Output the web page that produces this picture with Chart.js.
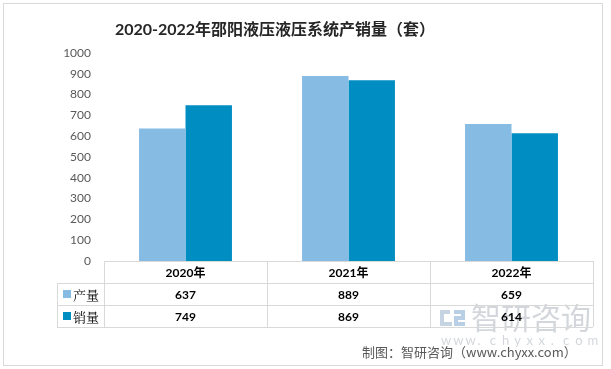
<!DOCTYPE html>
<html>
<head>
<meta charset="utf-8">
<script src="https://cdn.jsdelivr.net/npm/chart.js@4"></script>
<style>
html,body{margin:0;padding:0;background:#fff;}
#wrap{position:relative;width:611px;height:369px;}
</style>
</head>
<body>
<div id="wrap"><canvas id="c" width="611" height="369"></canvas></div>
<script>
const titleText = '2020-2022年邵阳液压液压系统产销量（套）';
const categories = ['2020年', '2021年', '2022年'];
const seriesNames = ['产量', '销量'];
const production = [637, 889, 659];
const sales = [749, 869, 614];
const yTicks = [0, 100, 200, 300, 400, 500, 600, 700, 800, 900, 1000];
const sourceText = '制图：智研咨询（www.chyxx.com）';
const colors = ['#86bbe3', '#008dc2'];

const latin = "Lato, 'Noto Sans CJK SC', sans-serif";

const tablePlugin = {
  id: 'tablePlugin',
  beforeDraw(chart) {
    const ctx = chart.ctx;
    ctx.save();
    ctx.fillStyle = '#fff';
    ctx.fillRect(0, 0, chart.width, chart.height);
    ctx.strokeStyle = '#d9d9d9';
    ctx.lineWidth = 1;
    ctx.strokeRect(3.5, 3.5, 599, 362);
    // watermark
    ctx.fillStyle = '#d3d7dc';
    ctx.font = "30px 'Noto Sans CJK SC'";
    ctx.textAlign = 'left';
    ctx.textBaseline = 'middle';
    ctx.fillText('智研咨询', 471, 318);
    ctx.font = "13px " + latin;
    const w = 'www.chyxx.com';
    for (let i = 0; i < w.length; i++) {
      ctx.fillText(w[i], 441 + i * 12.2, 341);
    }
    // logo
    ctx.fillStyle = '#c5d3e3';
    ctx.fillRect(440, 310, 10, 4);
    ctx.fillRect(440, 310, 4, 16);
    ctx.fillRect(440, 322, 12, 4);
    ctx.fillStyle = '#b9cfe6';
    ctx.fillRect(454, 310, 11, 4);
    ctx.fillRect(461, 310, 4, 9);
    ctx.fillRect(454, 316, 11, 4);
    ctx.fillRect(454, 316, 4, 10);
    ctx.fillRect(454, 322, 11, 4);
    ctx.restore();
  },
  afterDraw(chart) {
    const ctx = chart.ctx;
    const ca = chart.chartArea;
    const xs = chart.scales.x;
    const left = ca.left, right = ca.right;
    const colW = (right - left) / categories.length;
    const tableLeft = 57;
    const rows = [ca.bottom, ca.bottom + 22, ca.bottom + 44, ca.bottom + 66];
    ctx.save();
    // title
    ctx.fillStyle = '#262626';
    ctx.font = "bold 16px " + latin;
    ctx.textAlign = 'center';
    ctx.textBaseline = 'middle';
    ctx.fillText(titleText, 275, 30);

    ctx.strokeStyle = '#d9d9d9';
    ctx.lineWidth = 1;
    ctx.beginPath();
    ctx.moveTo(left, Math.round(rows[0]) + 0.5);
    ctx.lineTo(right, Math.round(rows[0]) + 0.5);
    for (let r = 1; r < rows.length; r++) {
      ctx.moveTo(tableLeft, Math.round(rows[r]) + 0.5);
      ctx.lineTo(right, Math.round(rows[r]) + 0.5);
    }
    for (let i = 0; i <= categories.length; i++) {
      const x = Math.round(left + i * colW) + 0.5;
      ctx.moveTo(x, rows[0]);
      ctx.lineTo(x, rows[3]);
    }
    ctx.moveTo(tableLeft + 0.5, rows[1]);
    ctx.lineTo(tableLeft + 0.5, rows[3]);
    ctx.stroke();

    ctx.fillStyle = '#000';
    ctx.textAlign = 'center';
    ctx.font = "bold 12px " + latin;
    const data = [production, sales];
    categories.forEach((c, i) => {
      const cx = xs.getPixelForValue(i);
      ctx.fillText(c, cx, (rows[0] + rows[1]) / 2 + 1);
      ctx.fillText(String(data[0][i]), cx, (rows[1] + rows[2]) / 2 + 1);
      ctx.fillText(String(data[1][i]), cx, (rows[2] + rows[3]) / 2 + 1);
    });
    ctx.textAlign = 'left';
    ctx.font = "13px 'Noto Serif CJK SC', 'Noto Sans CJK SC', serif";
    for (let s = 0; s < 2; s++) {
      const cy = (rows[s + 1] + rows[s + 2]) / 2;
      ctx.fillStyle = colors[s];
      ctx.fillRect(63, cy - 4, 8, 8);
      ctx.fillStyle = '#000';
      ctx.fillText(seriesNames[s], 73, cy + 1);
    }
    ctx.fillStyle = '#595959';
    ctx.font = "13px 'Noto Sans CJK SC', sans-serif";
    ctx.textAlign = 'left';
    ctx.fillText(sourceText, 362, 352);
    ctx.restore();
  }
};

new Chart(document.getElementById('c'), {
  type: 'bar',
  data: {
    labels: categories,
    datasets: [
      { label: seriesNames[0], data: production, backgroundColor: colors[0], categoryPercentage: 0.57, barPercentage: 1.0 },
      { label: seriesNames[1], data: sales, backgroundColor: colors[1], categoryPercentage: 0.57, barPercentage: 1.0 }
    ]
  },
  options: {
    responsive: false,
    animation: false,
    devicePixelRatio: 1,
    layout: { padding: { top: 53, bottom: 108, right: 18, left: 0 } },
    plugins: { legend: { display: false }, title: { display: false }, tooltip: { enabled: false } },
    scales: {
      x: { display: false },
      y: {
        min: 0, max: 1000,
        afterBuildTicks: (s) => { s.ticks = yTicks.map(v => ({ value: v })); },
        afterFit: (s) => { s.width = 104; },
        grid: { display: false, drawTicks: false },
        border: { display: false },
        ticks: { padding: 13, color: '#595959', font: { family: latin, size: 12 }, callback: (v) => String(v) }
      }
    }
  },
  plugins: [tablePlugin]
});
</script>
</body>
</html>
